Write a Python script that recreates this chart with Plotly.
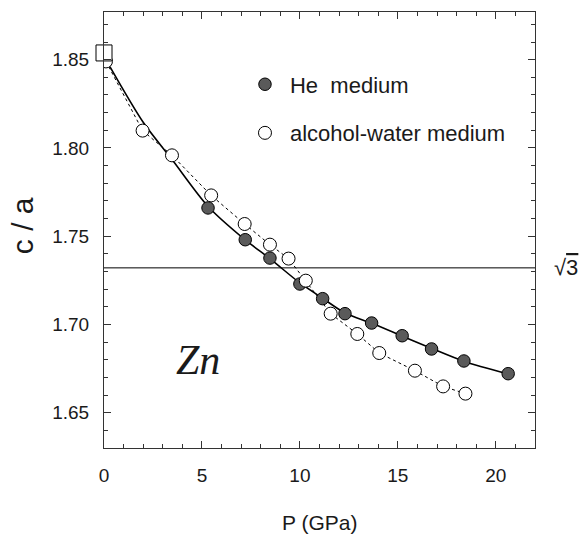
import math
import plotly.graph_objects as go

# c/a ratio of Zn under pressure
he_p = [5.31, 7.21, 8.47, 10.0, 11.16, 12.3, 13.66, 15.22, 16.72, 18.37, 20.63]
he_ca = [1.766, 1.748, 1.7376, 1.7229, 1.7146, 1.7061, 1.7008, 1.6936, 1.6861, 1.6793, 1.6721]

aw_p = [0.1, 1.97, 3.47, 5.47, 7.18, 8.47, 9.42, 10.3, 11.57, 12.93, 14.05, 15.87, 17.31, 18.45]
aw_ca = [1.849, 1.8098, 1.7958, 1.7731, 1.7569, 1.7452, 1.7373, 1.7248, 1.7061, 1.6946,
         1.6838, 1.6738, 1.6649, 1.6608]

# smooth curve drawn through the He-medium data
fit_p = [0.3, 2.0, 3.5, 5.3, 7.2, 8.5, 10.0, 11.2, 12.3, 13.7, 15.2, 16.7, 18.4, 20.6]
fit_ca = [1.846, 1.8145, 1.793, 1.767, 1.748, 1.737, 1.7235, 1.7145, 1.7065, 1.7005,
          1.6935, 1.6865, 1.679, 1.672]

# ambient-pressure reference value
ref_p = [0.0]
ref_ca = [1.8538]

SQRT3 = math.sqrt(3)

FONT = "Liberation Sans, Arial, sans-serif"
INK = "#1a1a1a"

fig = go.Figure()

fig.add_trace(go.Scatter(x=fit_p, y=fit_ca, mode="lines",
                         line=dict(color="black", width=1.6, shape="spline", smoothing=0.8),
                         showlegend=False, hoverinfo="skip"))
fig.add_trace(go.Scatter(x=aw_p, y=aw_ca, mode="lines",
                         line=dict(color="black", width=1, dash="dot"),
                         showlegend=False, hoverinfo="skip"))
fig.add_trace(go.Scatter(x=he_p, y=he_ca, mode="markers", name="He  medium",
                         legendgroup="he",
                         marker=dict(size=12.5, color="#5a5a5a",
                                     line=dict(color="black", width=1))))
fig.add_trace(go.Scatter(x=aw_p, y=aw_ca, mode="markers", name="alcohol-water medium",
                         legendgroup="aw",
                         marker=dict(size=13, color="white",
                                     line=dict(color="black", width=1))))
fig.add_trace(go.Scatter(x=ref_p, y=ref_ca, mode="markers", showlegend=False,
                         cliponaxis=False,
                         marker=dict(symbol="square", size=16, color="white",
                                     line=dict(color="black", width=1))))

fig.add_shape(type="line", xref="paper", x0=0, x1=1, yref="y", y0=SQRT3, y1=SQRT3,
              line=dict(color="black", width=1))

axis_common = dict(
    showline=True, linecolor="#333", linewidth=1, mirror="allticks",
    ticks="inside", ticklen=7, tickwidth=1, tickcolor="#333",
    showgrid=False, zeroline=False,
    tickfont=dict(family=FONT, size=19, color=INK),
)

fig.update_xaxes(range=[0, 22], tick0=0, dtick=5,
                 minor=dict(ticks="inside", ticklen=4, dtick=1, tickcolor="#333", showgrid=False),
                 ticklabelstandoff=10, **axis_common)
fig.update_yaxes(range=[1.63, 1.877], tick0=1.65, dtick=0.05, tickformat=".2f",
                 minor=dict(ticks="inside", ticklen=4, dtick=0.01, tickcolor="#333", showgrid=False),
                 ticklabelstandoff=10, **axis_common)

fig.add_annotation(text="c / a", xref="paper", yref="paper", x=-0.19, y=0.509,
                   textangle=-90, showarrow=False, xanchor="center", yanchor="middle",
                   font=dict(family=FONT, size=30, color=INK))
fig.add_annotation(text="P (GPa)", xref="paper", yref="paper", x=0.499, y=-0.17,
                   showarrow=False, xanchor="center", yanchor="middle",
                   font=dict(family=FONT, size=21, color=INK))
fig.add_annotation(text="<i>Zn</i>", xref="x", yref="y", x=4.8, y=1.680,
                   showarrow=False, xanchor="center", yanchor="middle",
                   font=dict(family="Liberation Serif, Times New Roman, serif", size=42, color=INK))
fig.add_annotation(text="\u221a<span style='text-decoration:overline'>3</span>",
                   xref="paper", yref="y", x=1.072, y=SQRT3,
                   showarrow=False, xanchor="center", yanchor="middle",
                   font=dict(family=FONT, size=22, color=INK))

fig.update_layout(
    width=581, height=538,
    margin=dict(l=104, r=46, t=12, b=90),
    paper_bgcolor="white", plot_bgcolor="white",
    showlegend=True,
    legend=dict(x=0.3155, y=0.882, xanchor="left", yanchor="top",
                traceorder="grouped", tracegroupgap=17, itemwidth=40,
                bgcolor="rgba(0,0,0,0)",
                font=dict(family=FONT, size=22, color=INK)),
)

fig.write_html("out.html")
